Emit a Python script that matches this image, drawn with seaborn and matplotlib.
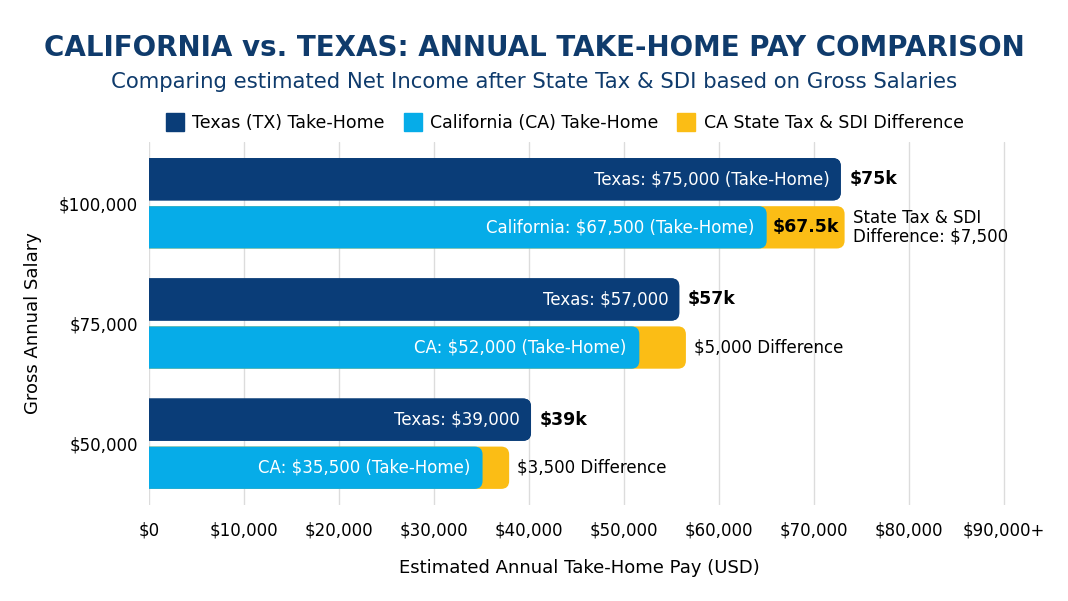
import numpy as np
import pandas as pd
import matplotlib
matplotlib.use("Agg")
import matplotlib.pyplot as plt
import seaborn as sns
from matplotlib.patches import FancyBboxPatch
from matplotlib.lines import Line2D

# data (bar lengths, labels as printed)
salaries = ["$100,000", "$75,000", "$50,000"]
tx_take_home = [72800, 55800, 40200]
ca_take_home = [65000, 51600, 35100]
ca_with_diff = [73200, 56500, 37900]

tx_inner = ["Texas: $75,000 (Take-Home)", "Texas: $57,000", "Texas: $39,000"]
tx_outer = ["$75k", "$57k", "$39k"]
ca_inner = ["California: $67,500 (Take-Home)", "CA: $52,000 (Take-Home)", "CA: $35,500 (Take-Home)"]
ca_diff_inner = ["$67.5k", "", ""]
ca_outer = ["State Tax & SDI\nDifference: $7,500", "$5,000 Difference", "$3,500 Difference"]

xticks = [0, 10000, 20000, 30000, 40000, 50000, 60000, 70000, 80000, 90000]
xtick_labels = ["$0", "$10,000", "$20,000", "$30,000", "$40,000", "$50,000",
                "$60,000", "$70,000", "$80,000", "$90,000+"]

navy = "#0a3d78"
sky = "#06ace8"
gold = "#fbbd15"
title_col = "#0f3b6c"

sns.set_style("white")
plt.rcParams['font.family'] = ['DejaVu Sans']

back = pd.DataFrame({"salary": salaries * 2,
                     "state": ["Texas"] * 3 + ["California"] * 3,
                     "value": tx_take_home + ca_with_diff})
front = pd.DataFrame({"salary": salaries * 2,
                      "state": ["Texas"] * 3 + ["California"] * 3,
                      "value": tx_take_home + ca_take_home})

fig = plt.figure(figsize=(10.68, 6.01), dpi=100)
ax = fig.add_axes([149/1068, 1-505/601, (1009-149)/1068, (505-142)/601])

sns.barplot(data=back, y="salary", x="value", hue="state", hue_order=["Texas", "California"],
            palette={"Texas": navy, "California": gold}, orient="h", width=0.8, gap=0.12,
            saturation=1, legend=False, ax=ax, zorder=2)
n_back = len(ax.patches)
sns.barplot(data=front, y="salary", x="value", hue="state", hue_order=["Texas", "California"],
            palette={"Texas": navy, "California": sky}, orient="h", width=0.8, gap=0.12,
            saturation=1, legend=False, ax=ax, zorder=3)

ax.set_xlim(0, 90500)
ax.set_ylim(2.51, -0.51)

# swap plain rectangles for bars with rounded right ends
px_x = (1009 - 149) / 90500
px_y = (505 - 142) / 3.02
r = 8 / px_x
aspect = (8 / px_y) / r
bars = list(ax.patches)
for i, p in enumerate(bars):
    x, y = p.get_x(), p.get_y()
    w, h = p.get_width(), p.get_height()
    fb = FancyBboxPatch((x - r, y), w + r, h,
                        boxstyle=f"round,pad=0,rounding_size={r}",
                        mutation_aspect=aspect, facecolor=p.get_facecolor(),
                        edgecolor="none", zorder=2 if i < n_back else 3)
    p.remove()
    ax.add_patch(fb)

# labels
for i in range(3):
    ty = i - 0.2
    cy = i + 0.2
    ax.annotate(tx_inner[i], (tx_take_home[i], ty), xytext=(-8, 0), textcoords="offset points",
                ha="right", va="center", color="white", fontsize=12, zorder=5)
    ax.annotate(tx_outer[i], (tx_take_home[i], ty), xytext=(6, 0), textcoords="offset points",
                ha="left", va="center", color="black", fontsize=12.5, fontweight="bold", zorder=5)
    ax.annotate(ca_inner[i], (ca_take_home[i], cy), xytext=(-9, 0), textcoords="offset points",
                ha="right", va="center", color="white", fontsize=12, zorder=5)
    if ca_diff_inner[i]:
        ax.text((ca_take_home[i] + ca_with_diff[i]) / 2, cy, ca_diff_inner[i], ha="center",
                va="center", color="black", fontsize=12.5, fontweight="bold", zorder=5)
    ax.annotate(ca_outer[i], (ca_with_diff[i], cy), xytext=(6, 0), textcoords="offset points",
                ha="left", va="center", color="black", fontsize=12, linespacing=1.0, zorder=5)

ax.set_xticks(xticks)
ax.set_xticklabels(xtick_labels, fontsize=12)
ax.tick_params(axis="y", labelsize=12, length=0, pad=8, labelcolor="black")
ax.tick_params(axis="x", length=0, pad=12, labelcolor="black")
ax.grid(axis="x", color="#dcdcdc", linewidth=1, zorder=0)
ax.set_axisbelow(True)
for s in ax.spines.values():
    s.set_visible(False)
ax.set_xlabel("Estimated Annual Take-Home Pay (USD)", fontsize=13, labelpad=14, color="black")
ax.set_ylabel("Gross Annual Salary", fontsize=13, labelpad=12, color="black")

fig.text(0.5, 1 - 48/601, "CALIFORNIA vs. TEXAS: ANNUAL TAKE-HOME PAY COMPARISON",
         ha="center", va="center", fontsize=20, fontweight="bold", color=title_col)
fig.text(0.5, 1 - 82/601, "Comparing estimated Net Income after State Tax & SDI based on Gross Salaries",
         ha="center", va="center", fontsize=15.3, color=title_col)

handles = [Line2D([], [], marker="s", linestyle="none", markersize=13, color=c)
           for c in (navy, sky, gold)]
fig.legend(handles, ["Texas (TX) Take-Home", "California (CA) Take-Home", "CA State Tax & SDI Difference"],
           loc="center", bbox_to_anchor=(565/1068, 1 - 123/601), ncol=3, frameon=False,
           fontsize=12.5, handletextpad=0.5, columnspacing=1.1, handlelength=1.0,
           labelcolor="black")

fig.savefig("out.png", dpi=100)
